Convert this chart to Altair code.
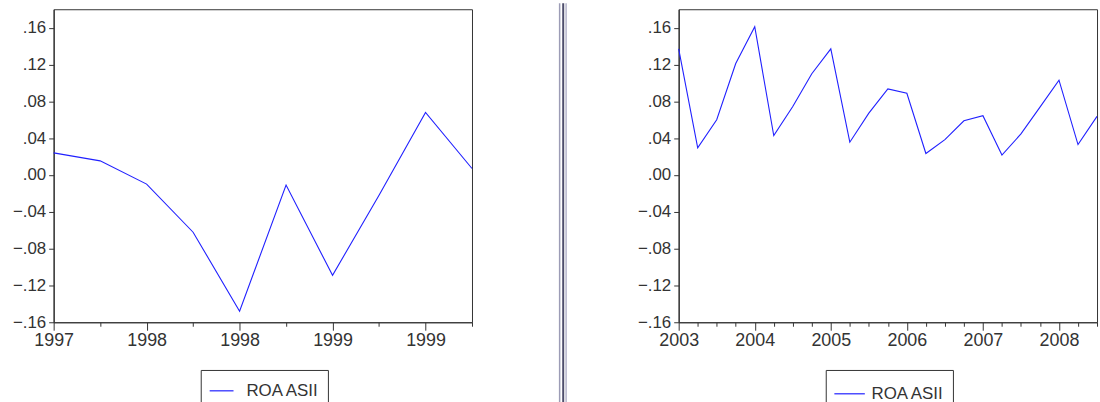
import json
import altair as alt
import pandas as pd

# Return on assets, ASII — early period (ten observations)
left_period = list(range(10))
left_roa = [0.024, 0.0153, -0.0099, -0.0622, -0.148, -0.011, -0.109, -0.022, 0.068, 0.007]
left_tick_labels = ["1997", "1998", "1998", "1999", "1999"]

# Return on assets, ASII — quarterly 2003Q1 .. 2008Q3
right_period = list(range(23))
right_roa = [
    0.137, 0.0294, 0.060, 0.121, 0.161, 0.0427, 0.0744, 0.110, 0.137,
    0.0356, 0.0672, 0.0934, 0.0888, 0.0233, 0.0384, 0.0589, 0.0643,
    0.0216, 0.0446, 0.0737, 0.103, 0.033, 0.0636,
]
right_tick_labels = ["2003", "2004", "2005", "2006", "2007", "2008"]

y_ticks = [-0.16, -0.12, -0.08, -0.04, 0.0, 0.04, 0.08, 0.12, 0.16]
series_name = "ROA ASII"

FONT = "Liberation Sans"
TEXT = "#333333"
LINE = "#2020ff"
PLOT_W, PLOT_H = 421, 315


def y_axis():
    return alt.Axis(
        values=y_ticks,
        labelExpr="replace(format(datum.value, '.2f'), '0.', '.')",
        title=None, grid=False, tickSize=5, labelPadding=3,
        labelFontSize=17, labelFlush=False, labelOverlap=False,
    )


def x_axis(n, every, labels):
    expr = (
        f"datum.value % {every} === 0 ? {json.dumps(labels)}[datum.value / {every}] : ''"
    )
    return alt.Axis(
        values=list(range(n)),
        labelExpr=expr,
        title=None, grid=False, labelFontSize=18, labelPadding=1,
        labelFlush=False, labelOverlap=False,
        tickSize={"condition": {"test": f"datum.value % {every} === 0", "value": 8}, "value": 4},
    )


def panel(period, roa, every, labels, legend_kwargs):
    df = pd.DataFrame({"t": period, "roa": roa, "series": series_name})
    n = len(period)
    return alt.Chart(df).mark_line(strokeWidth=1.1).encode(
        x=alt.X("t:Q", scale=alt.Scale(domain=[0, n - 1], nice=False, zero=False),
                axis=x_axis(n, every, labels)),
        y=alt.Y("roa:Q", scale=alt.Scale(domain=[-0.16, 0.18], nice=False, zero=False),
                axis=y_axis()),
        color=alt.Color(
            "series:N",
            scale=alt.Scale(range=[LINE]),
            legend=alt.Legend(
                orient="none", title=None, symbolType="stroke",
                symbolStrokeWidth=1.2, labelFontSize=17, labelFont=FONT,
                labelColor=TEXT, padding=8, strokeColor="#333333",
                fillColor="white", **legend_kwargs,
            ),
        ),
    ).properties(width=PLOT_W, height=PLOT_H)


left = panel(left_period, left_roa, 2, left_tick_labels,
             dict(legendX=148, legendY=363, symbolSize=576, labelOffset=12))
right = panel(right_period, right_roa, 4, right_tick_labels,
              dict(legendX=148, legendY=363, symbolSize=940, labelOffset=6))

# double divider between the two graphs
div_layers = []
for xpos, col, w in [(509.2, "#9c9cb6", 1.5), (512.8, "#4e4e6c", 2), (515.7, "#a4a4bf", 1.2)]:
    div_layers.append(
        alt.Chart(pd.DataFrame({"k": [0]})).mark_rule(color=col, strokeWidth=w).encode(
            x=alt.value(xpos), y=alt.value(-6), y2=alt.value(400)
        )
    )

left_full = alt.layer(left, *div_layers)

chart = alt.hconcat(left_full, right, spacing=208, bounds="flush").resolve_scale(
    color="independent"
).resolve_legend(color="independent").properties(
    padding={"left": 11, "top": 0, "right": 0, "bottom": 0},
    background="white",
).configure_view(
    stroke="#333333", strokeWidth=1
).configure_axis(
    labelFont=FONT, labelColor=TEXT, domainColor="#333333", tickColor="#333333",
    domainWidth=1.2, tickWidth=1,
)

chart.save("out.html", embed_options={"renderer": "svg", "actions": False})
